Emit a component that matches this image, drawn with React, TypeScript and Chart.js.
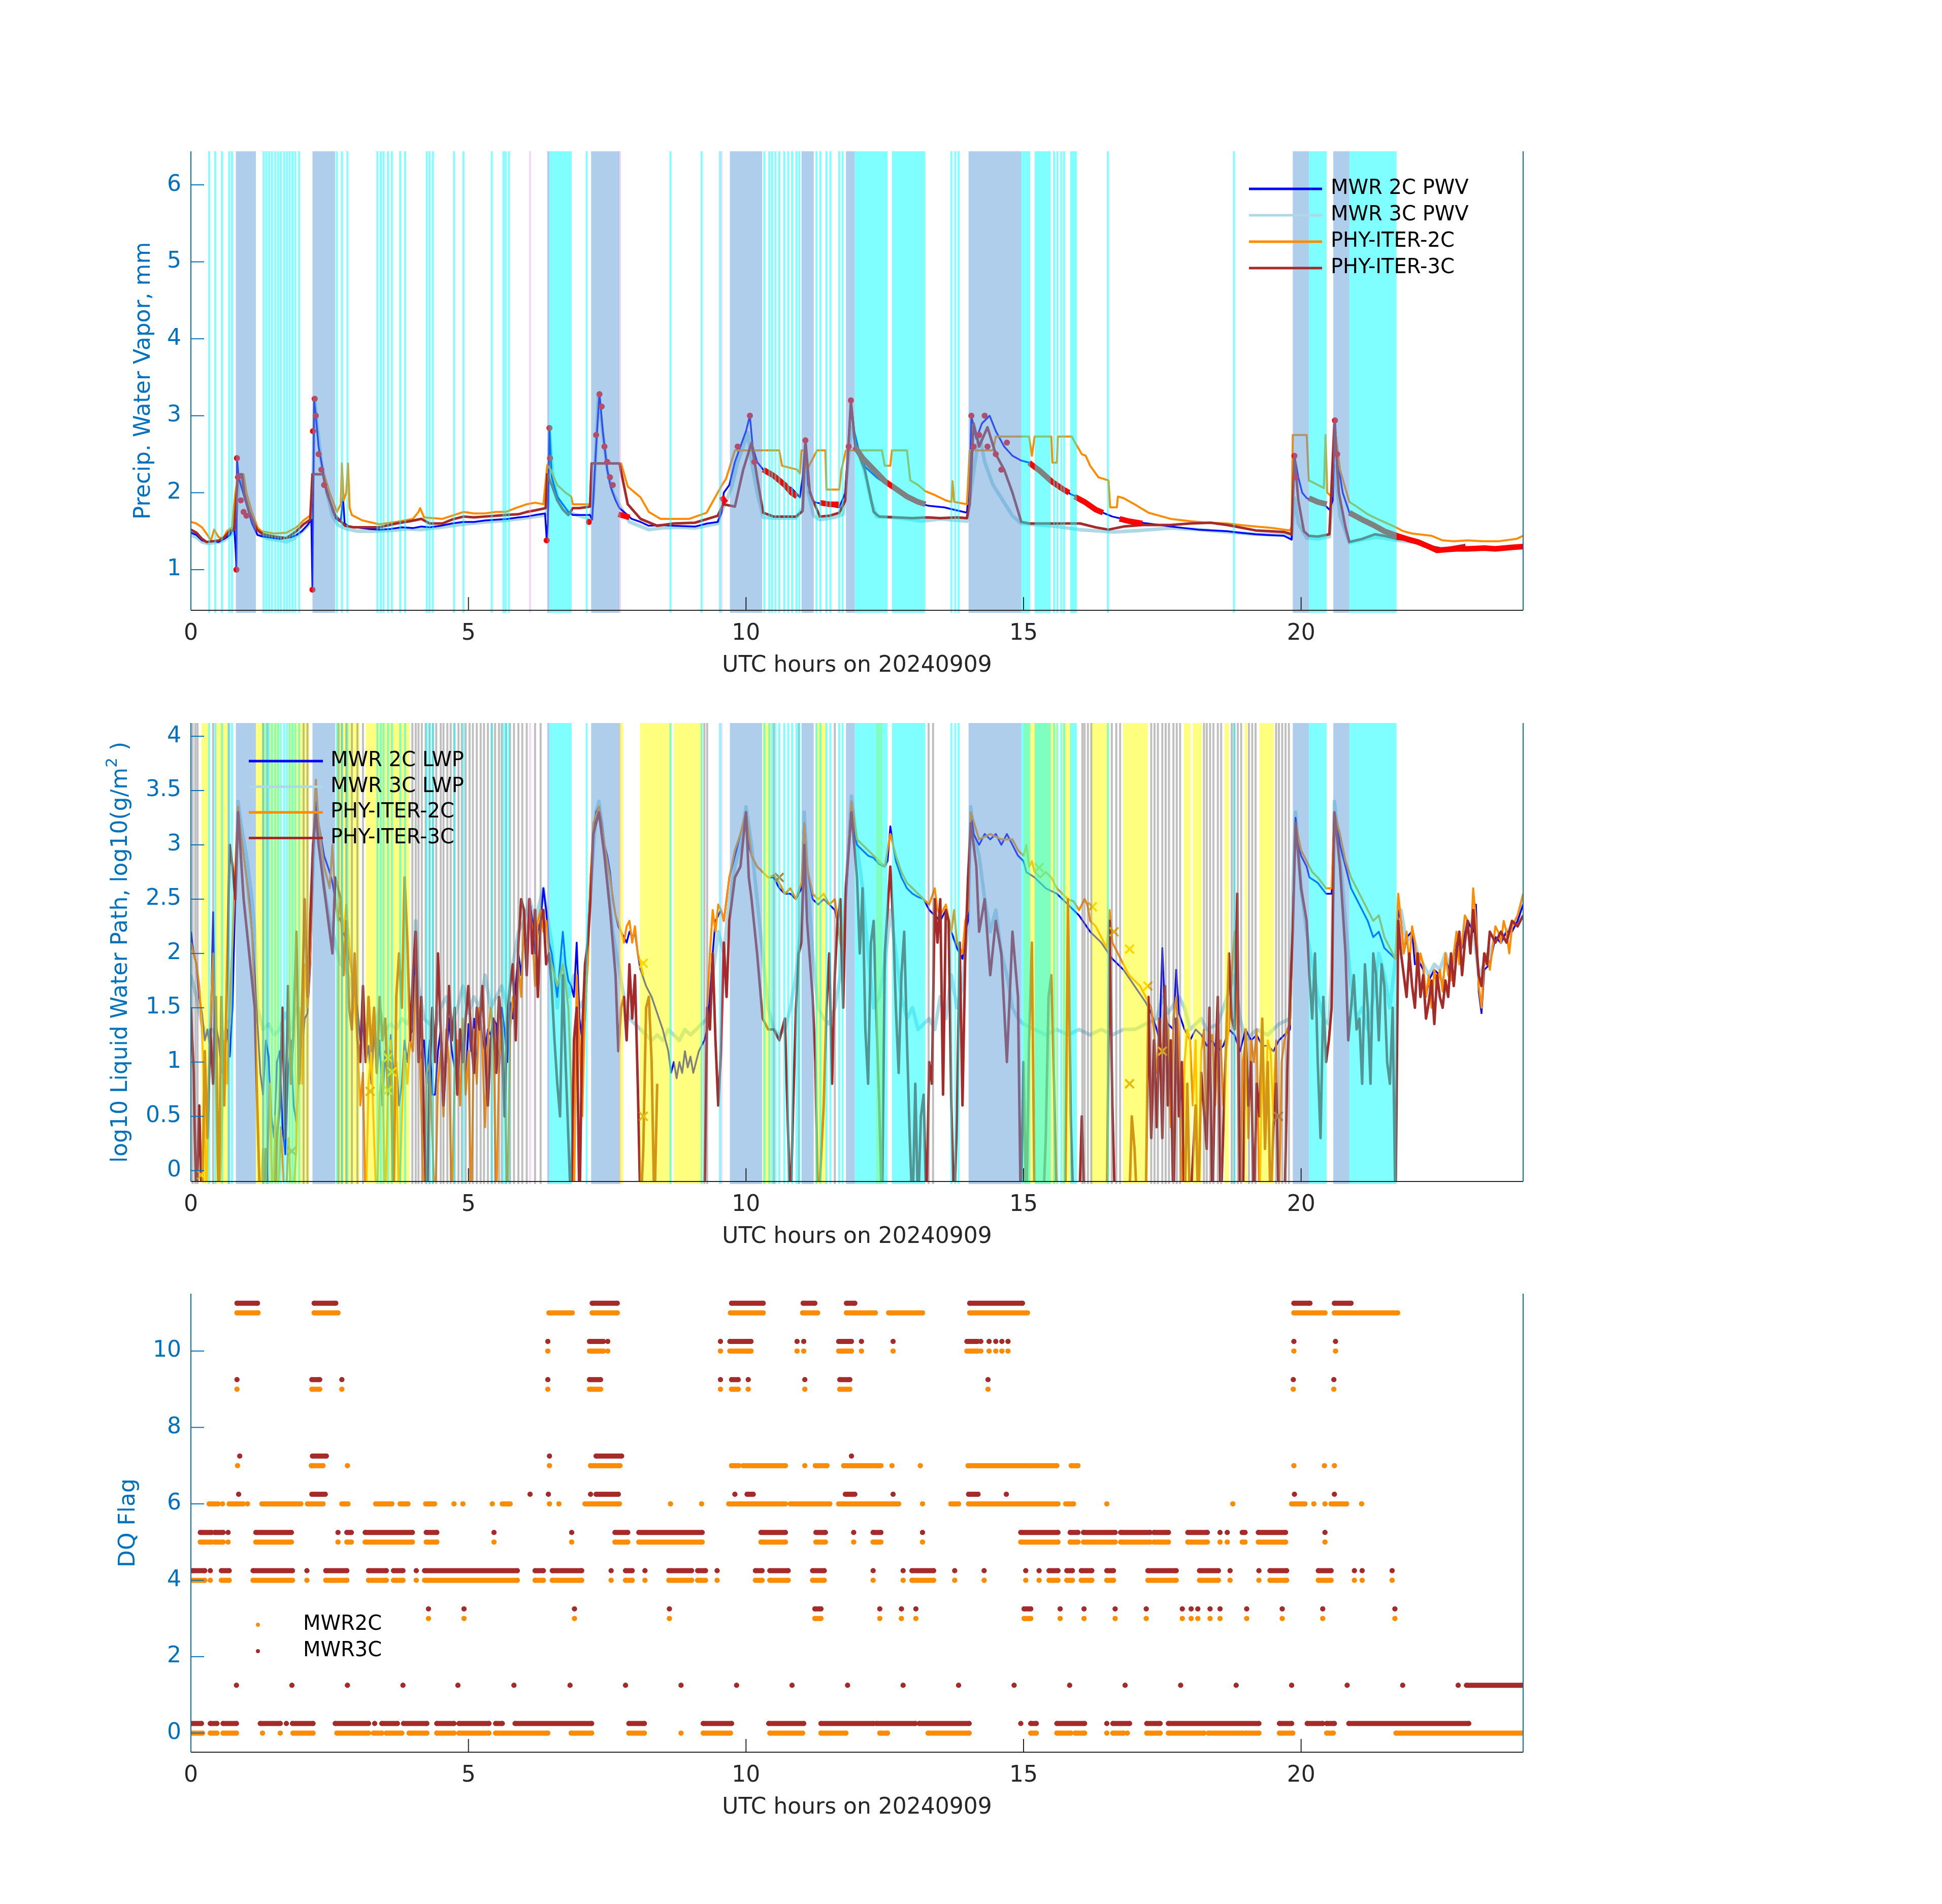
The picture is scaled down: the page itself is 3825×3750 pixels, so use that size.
import React, { useEffect, useRef } from "react";
import { Chart, registerables } from "chart.js";

Chart.register(...registerables);

type Pair = [number, number | null];
type Run = number[];

// ---------------- ticks & labels ----------------
const hourTicks = [0, 5, 10, 15, 20];
const pwvTicks = [1, 2, 3, 4, 5, 6];
const lwpTicks = [0, 0.5, 1, 1.5, 2, 2.5, 3, 3.5, 4];
const dqTicks = [0, 2, 4, 6, 8, 10];
const pwvLegend = ["MWR 2C PWV", "MWR 3C PWV", "PHY-ITER-2C", "PHY-ITER-3C"];
const lwpLegend = ["MWR 2C LWP", "MWR 3C LWP", "PHY-ITER-2C", "PHY-ITER-3C"];
const dqLegend = ["MWR2C", "MWR3C"];
const xTitle = "UTC hours on 20240909";

// ---------------- PWV panel (hours, mm) ----------------
const pwvMwr2c: Pair[] = [[0,1.48],[0.1,1.45],[0.2,1.38],[0.3,1.36],[0.4,1.37],[0.5,1.36],[0.6,1.4],[0.7,1.45],[0.78,1.55],[0.81,1.2],[0.82,1.0],[0.83,2.45],[0.86,2.2],[0.92,2.05],[1.0,1.85],[1.1,1.6],[1.2,1.45],[1.3,1.43],[1.4,1.42],[1.5,1.41],[1.6,1.4],[1.7,1.41],[1.8,1.42],[1.9,1.45],[2.0,1.5],[2.1,1.58],[2.17,1.65],[2.19,0.75],[2.2,1.6],[2.22,3.2],[2.25,3.0],[2.3,2.6],[2.4,2.2],[2.5,1.9],[2.56,1.75],[2.62,1.66],[2.7,1.62],[2.74,1.94],[2.77,1.6],[2.85,1.56],[2.95,1.55],[3.2,1.53],[3.4,1.52],[3.6,1.53],[3.8,1.55],[4.0,1.54],[4.15,1.56],[4.3,1.55],[4.5,1.57],[4.7,1.6],[4.9,1.62],[5.1,1.62],[5.3,1.64],[5.5,1.65],[5.7,1.66],[5.9,1.68],[6.05,1.69],[6.2,1.71],[6.38,1.73],[6.41,1.38],[6.43,1.6],[6.46,2.85],[6.5,2.2],[6.6,1.95],[6.7,1.85],[6.8,1.75],[6.88,1.71],[7.0,1.71],[7.19,1.71],[7.23,1.65],[7.3,2.6],[7.36,3.3],[7.42,2.8],[7.5,2.3],[7.56,2.08],[7.65,1.9],[7.72,1.8],[7.85,1.72],[7.94,1.66],[8.1,1.62],[8.25,1.57],[8.47,1.58],[8.7,1.57],[9.08,1.56],[9.3,1.6],[9.49,1.62],[9.56,1.74],[9.6,2.0],[9.7,2.1],[9.8,2.4],[9.9,2.6],[10.0,2.8],[10.07,3.0],[10.12,2.6],[10.2,2.4],[10.31,2.3],[10.51,2.2],[10.7,2.1],[10.82,2.06],[10.97,1.94],[11.02,2.2],[11.07,2.68],[11.12,2.1],[11.22,1.88],[11.4,1.85],[11.53,1.83],[11.68,1.81],[11.79,2.0],[11.89,3.2],[11.95,2.8],[12.05,2.5],[12.14,2.34],[12.35,2.2],[12.55,2.1],[12.7,2.03],[12.86,1.97],[13.0,1.92],[13.16,1.85],[13.3,1.83],[13.57,1.81],[13.8,1.77],[13.98,1.74],[14.03,2.2],[14.06,3.0],[14.15,2.7],[14.25,2.9],[14.39,3.0],[14.5,2.8],[14.65,2.6],[14.8,2.48],[14.95,2.42],[15.1,2.39],[15.25,2.3],[15.41,2.2],[15.55,2.12],[15.71,2.06],[15.85,1.98],[16.02,1.93],[16.2,1.82],[16.43,1.74],[16.6,1.69],[16.84,1.65],[17.0,1.62],[17.24,1.6],[17.45,1.58],[17.65,1.56],[17.9,1.54],[18.16,1.52],[18.4,1.51],[18.67,1.5],[18.9,1.48],[19.18,1.46],[19.4,1.45],[19.69,1.44],[19.83,1.39],[19.86,2.2],[19.88,2.48],[19.95,2.2],[20.02,2.0],[20.1,1.93],[20.25,1.88],[20.41,1.85],[20.51,1.78],[20.57,1.9],[20.61,2.94],[20.66,2.4],[20.75,2.0],[20.87,1.74],[21.0,1.7],[21.15,1.65],[21.3,1.58],[21.5,1.5],[21.73,1.44],[21.9,1.41],[22.14,1.37],[22.3,1.3],[22.45,1.25],[22.6,1.26],[22.76,1.27],[23.0,1.27],[23.27,1.28],[23.5,1.28],[23.78,1.29],[24.0,1.32]];

const pwvMwr3c: Pair[] = [[0,1.45],[0.1,1.42],[0.2,1.36],[0.3,1.34],[0.4,1.35],[0.5,1.36],[0.6,1.38],[0.7,1.44],[0.78,1.5],[0.83,1.8],[0.88,2.2],[0.95,2.05],[1.05,1.8],[1.15,1.55],[1.25,1.45],[1.4,1.4],[1.6,1.38],[1.72,1.36],[1.85,1.4],[2.03,1.52],[2.15,1.6],[2.2,2.2],[2.23,3.24],[2.27,2.9],[2.35,2.4],[2.45,2.0],[2.55,1.7],[2.65,1.58],[2.8,1.53],[3.0,1.5],[3.3,1.5],[3.6,1.51],[3.9,1.53],[4.15,1.52],[4.5,1.55],[4.9,1.59],[5.3,1.62],[5.67,1.64],[6.0,1.67],[6.39,1.71],[6.43,1.8],[6.46,2.8],[6.52,2.2],[6.62,1.9],[6.75,1.78],[6.9,1.72],[7.19,1.66],[7.25,1.9],[7.3,2.6],[7.34,3.28],[7.4,2.9],[7.5,2.3],[7.6,2.0],[7.75,1.8],[7.9,1.62],[8.25,1.52],[8.47,1.54],[8.8,1.55],[9.08,1.54],[9.49,1.6],[9.56,1.76],[9.65,1.9],[9.75,2.1],[9.85,2.4],[9.95,2.6],[10.03,2.78],[10.1,2.4],[10.2,2.0],[10.31,1.68],[10.5,1.67],[10.9,1.67],[11.02,1.8],[11.07,2.62],[11.12,2.0],[11.22,1.7],[11.33,1.65],[11.6,1.68],[11.75,1.72],[11.85,2.5],[11.9,2.85],[12.0,2.6],[12.14,2.27],[12.25,1.9],[12.35,1.69],[12.6,1.68],[12.9,1.66],[13.16,1.63],[13.5,1.66],[13.98,1.63],[14.05,2.0],[14.2,2.78],[14.3,2.4],[14.45,2.1],[14.6,1.93],[14.8,1.7],[14.96,1.6],[15.3,1.58],[15.6,1.56],[16.0,1.52],[16.63,1.49],[17.1,1.51],[17.65,1.54],[18.16,1.52],[18.67,1.49],[19.18,1.46],[19.69,1.45],[19.83,1.43],[19.88,1.93],[19.95,1.6],[20.1,1.41],[20.3,1.4],[20.51,1.43],[20.61,2.35],[20.7,1.7],[20.87,1.35],[21.1,1.39],[21.33,1.42],[21.5,1.41],[21.73,1.38],[22.0,1.36],[22.14,1.35],[22.35,1.28],[22.55,1.25],[22.8,1.28],[22.96,1.29]];

const pwvPhy2c: Pair[] = [[0,1.62],[0.1,1.6],[0.2,1.55],[0.3,1.45],[0.36,1.38],[0.42,1.52],[0.5,1.42],[0.58,1.41],[0.65,1.5],[0.74,1.55],[0.8,1.99],[0.85,2.24],[0.95,2.24],[1.0,2.0],[1.1,1.75],[1.2,1.55],[1.27,1.5],[1.5,1.47],[1.72,1.48],[1.9,1.55],[2.03,1.64],[2.16,1.71],[2.19,2.24],[2.4,2.24],[2.5,2.0],[2.63,1.75],[2.7,1.85],[2.72,2.38],[2.75,1.9],[2.8,2.0],[2.83,2.38],[2.86,1.8],[2.9,1.71],[3.09,1.64],[3.39,1.59],[3.7,1.62],[4.0,1.66],[4.1,1.75],[4.13,1.8],[4.2,1.68],[4.53,1.66],[4.7,1.7],[4.91,1.75],[5.1,1.73],[5.29,1.73],[5.5,1.75],[5.67,1.75],[5.85,1.8],[6.05,1.85],[6.2,1.87],[6.35,1.85],[6.42,2.36],[6.48,2.3],[6.6,2.1],[6.75,2.0],[6.85,1.95],[6.88,1.85],[7.19,1.85],[7.22,2.38],[7.75,2.38],[7.87,2.08],[8.0,2.0],[8.1,1.94],[8.25,1.75],[8.46,1.66],[8.98,1.66],[9.29,1.74],[9.56,2.09],[9.64,2.18],[9.8,2.55],[10.6,2.55],[10.65,2.35],[10.92,2.3],[10.97,2.25],[11.0,2.55],[11.05,2.55],[11.1,2.3],[11.28,2.55],[11.43,2.55],[11.45,2.04],[11.68,2.04],[11.72,2.3],[11.8,2.55],[12.45,2.55],[12.5,2.35],[12.6,2.35],[12.63,2.55],[12.9,2.55],[12.96,2.16],[13.1,2.1],[13.23,2.02],[13.4,1.97],[13.6,1.9],[13.7,1.88],[13.72,2.15],[13.75,1.88],[13.98,1.85],[14.03,2.55],[14.45,2.55],[14.5,2.73],[15.1,2.73],[15.15,2.48],[15.2,2.73],[15.5,2.73],[15.52,2.39],[15.6,2.39],[15.62,2.73],[15.87,2.73],[15.92,2.66],[16.05,2.5],[16.12,2.48],[16.2,2.35],[16.35,2.2],[16.53,2.16],[16.56,1.81],[16.68,1.81],[16.7,1.95],[16.8,1.93],[17.0,1.85],[17.25,1.74],[17.45,1.7],[17.65,1.66],[18.0,1.63],[18.3,1.61],[18.67,1.6],[18.9,1.58],[19.18,1.56],[19.5,1.54],[19.8,1.51],[19.83,1.56],[19.85,2.75],[20.1,2.75],[20.14,2.16],[20.41,2.06],[20.44,2.75],[20.47,2.0],[20.55,1.95],[20.6,2.9],[20.7,2.3],[20.87,1.88],[21.0,1.82],[21.2,1.72],[21.4,1.65],[21.68,1.56],[21.84,1.5],[22.0,1.47],[22.35,1.44],[22.55,1.38],[22.76,1.37],[23.0,1.38],[23.27,1.37],[23.57,1.37],[23.88,1.4],[24.0,1.44]];

const pwvPhy3c: Pair[] = [[0,1.52],[0.1,1.48],[0.2,1.4],[0.28,1.36],[0.4,1.37],[0.51,1.38],[0.6,1.42],[0.7,1.5],[0.78,1.52],[0.85,2.24],[0.92,2.24],[0.96,1.99],[1.05,1.75],[1.19,1.52],[1.3,1.46],[1.5,1.43],[1.72,1.41],[1.9,1.5],[2.03,1.59],[2.15,1.65],[2.19,2.24],[2.38,2.24],[2.45,2.0],[2.6,1.7],[2.78,1.57],[2.94,1.55],[3.2,1.55],[3.39,1.55],[3.7,1.6],[3.95,1.63],[4.15,1.66],[4.3,1.6],[4.53,1.6],[4.7,1.65],[4.91,1.69],[5.1,1.68],[5.29,1.69],[5.5,1.7],[5.67,1.71],[5.9,1.72],[6.05,1.75],[6.2,1.77],[6.39,1.8],[6.42,2.24],[6.5,2.1],[6.6,1.9],[6.7,1.78],[6.8,1.71],[6.88,1.8],[7.0,1.8],[7.19,1.82],[7.22,2.38],[7.72,2.38],[7.87,1.85],[8.1,1.66],[8.4,1.57],[8.7,1.6],[9.08,1.61],[9.49,1.7],[9.59,1.85],[9.8,1.82],[9.95,2.3],[10.1,2.65],[10.2,2.2],[10.31,1.74],[10.5,1.69],[10.9,1.69],[11.02,1.76],[11.07,2.68],[11.15,2.0],[11.33,1.69],[11.5,1.7],[11.68,1.74],[11.79,1.9],[11.89,3.18],[11.97,2.6],[12.14,2.3],[12.3,1.75],[12.4,1.69],[12.7,1.68],[13.0,1.67],[13.27,1.68],[13.5,1.67],[13.8,1.68],[13.98,1.67],[14.03,1.85],[14.1,2.9],[14.2,2.6],[14.35,2.85],[14.5,2.5],[14.65,2.3],[14.8,2.0],[14.96,1.62],[15.1,1.6],[15.5,1.6],[16.02,1.6],[16.3,1.55],[16.53,1.52],[16.8,1.56],[17.14,1.58],[17.65,1.58],[18.0,1.6],[18.37,1.61],[18.67,1.58],[19.18,1.51],[19.69,1.49],[19.83,1.46],[19.88,2.48],[19.95,1.9],[20.05,1.5],[20.14,1.44],[20.3,1.43],[20.51,1.46],[20.6,2.9],[20.68,2.0],[20.8,1.55],[20.87,1.36],[21.1,1.4],[21.33,1.46],[21.5,1.44],[21.73,1.4],[22.0,1.38],[22.14,1.37],[22.35,1.3],[22.55,1.27],[22.8,1.3],[22.96,1.32]];

const pwvRedSegments: Pair[][] = [
  [[7.7,1.72],[7.8,1.7],[7.9,1.68]],
  [[9.56,1.95],[9.6,1.9],[9.64,1.87]],
  [[10.31,2.3],[10.5,2.22],[10.7,2.1],[10.82,2.0],[10.92,1.95]],
  [[11.33,1.87],[11.5,1.85],[11.68,1.85]],
  [[11.96,2.6],[12.1,2.45],[12.3,2.3],[12.5,2.15],[12.7,2.05],[12.9,1.95],[13.1,1.88],[13.23,1.85]],
  [[15.1,2.39],[15.3,2.28],[15.5,2.15],[15.7,2.05],[15.82,2.0]],
  [[15.92,1.95],[16.1,1.88],[16.3,1.78],[16.43,1.74]],
  [[16.73,1.66],[16.9,1.63],[17.14,1.6]],
  [[20.14,1.93],[20.3,1.88],[20.46,1.85]],
  [[20.87,1.74],[21.1,1.65],[21.3,1.58],[21.5,1.5],[21.73,1.44],[21.9,1.4],[22.1,1.36],[22.3,1.3],[22.45,1.25],[22.6,1.26],[22.8,1.27],[23.0,1.27],[23.3,1.28],[23.5,1.27],[23.8,1.29],[24.0,1.3]],
];
const pwvRedDots: Pair[] = [[0.82,1.0],[0.83,2.45],[0.85,2.2],[0.9,1.9],[0.95,1.75],[1.0,1.7],[2.19,0.74],[2.2,2.8],[2.23,3.22],[2.25,3.0],[2.3,2.5],[2.35,2.3],[2.4,2.1],[6.41,1.38],[6.46,2.84],[6.47,2.45],[7.17,1.62],[7.3,2.75],[7.36,3.28],[7.4,3.12],[7.45,2.6],[7.5,2.4],[7.55,2.2],[7.6,2.1],[9.85,2.6],[10.07,3.0],[10.15,2.4],[11.07,2.68],[11.85,2.6],[11.89,3.2],[14.06,3.0],[14.1,2.6],[14.2,2.75],[14.3,3.0],[14.35,2.6],[14.5,2.5],[14.6,2.3],[14.7,2.65],[19.88,2.48],[19.9,2.2],[20.61,2.94],[20.65,2.5]];

// ---------------- LWP panel (hours, log10 g/m2) ----------------
const lwpMwr2c: Pair[] = [[0,2.2],[0.05,2.0],[0.1,1.9],[0.15,1.6],[0.2,1.45],[0.25,1.2],[0.3,1.3],[0.35,1.1],[0.4,2.38],[0.43,1.4],[0.5,1.2],[0.55,0.9],[0.6,1.0],[0.65,1.3],[0.7,1.05],[0.75,1.5],[0.8,2.6],[0.85,3.35],[0.9,3.1],[0.95,2.9],[1.0,2.7],[1.05,2.5],[1.1,2.2],[1.15,1.8],[1.2,1.35],[1.25,0.9],[1.3,0.7],[1.35,1.2],[1.4,1.05],[1.45,0.5],[1.5,0.3],[1.55,1.0],[1.6,1.1],[1.65,0.4],[1.7,0.15],[1.75,0.9],[1.8,1.2],[1.85,0.6],[1.9,0.45],[1.95,1.0],[2.0,1.1],[2.05,1.4],[2.1,1.45],[2.15,1.9],[2.2,2.9],[2.25,3.4],[2.3,3.2],[2.4,2.9],[2.5,2.75],[2.55,2.65],[2.6,2.5],[2.65,2.35],[2.7,2.3],[2.75,2.2],[2.8,2.1],[2.85,2.0],[2.9,1.8],[2.95,1.6],[3.0,1.5],[3.05,1.2],[3.1,1.35],[3.15,1.0],[3.2,1.15],[3.25,0.8],[3.3,1.3],[3.35,0.9],[3.4,1.2],[3.45,0.6],[3.5,1.1],[3.55,0.75],[3.6,1.25],[3.65,0.9],[3.7,1.0],[3.75,0.6],[3.8,0.8],[3.85,1.2],[3.9,1.0],[3.95,1.25],[4.0,1.3],[4.04,2.2],[4.08,1.7],[4.12,1.0],[4.2,1.2],[4.25,0.8],[4.3,1.2],[4.35,0.7],[4.4,0.7],[4.45,1.1],[4.5,1.3],[4.55,0.9],[4.6,1.0],[4.65,1.4],[4.7,1.1],[4.75,0.95],[4.8,1.0],[4.85,1.3],[4.9,1.2],[4.95,0.8],[5.0,1.35],[5.05,1.1],[5.1,1.4],[5.15,0.9],[5.2,1.5],[5.25,1.2],[5.3,1.1],[5.35,1.3],[5.4,1.25],[5.45,1.4],[5.5,1.35],[5.55,0.9],[5.6,1.5],[5.65,1.3],[5.7,1.0],[5.75,1.55],[5.8,1.4],[5.85,1.7],[5.9,2.0],[5.95,1.8],[6.0,2.2],[6.05,2.0],[6.1,2.5],[6.15,2.3],[6.2,2.0],[6.25,2.2],[6.3,2.3],[6.35,2.6],[6.4,2.4],[6.45,2.1],[6.5,2.0],[6.55,1.8],[6.6,1.6],[6.65,1.9],[6.7,2.2],[6.75,1.9],[6.8,1.75],[6.85,1.7],[6.9,1.6],[6.95,2.1],[7.0,1.4],[7.05,1.2],[7.1,1.4],[7.15,2.0],[7.2,2.7],[7.25,3.1],[7.3,3.3],[7.35,3.35],[7.4,3.2],[7.45,3.0],[7.5,2.9],[7.55,2.75],[7.6,2.5],[7.65,2.35],[7.7,2.25],[7.75,2.2],[7.8,2.15],[7.85,2.1],[7.9,2.2],[7.95,2.15],[8.0,2.2],[8.05,2.0],[8.1,1.85],[8.2,1.7],[8.3,1.6],[8.4,1.45],[8.5,1.3],[8.6,1.1],[8.65,0.9],[8.7,1.0],[8.75,0.85],[8.8,1.0],[8.85,0.9],[8.9,1.1],[8.95,0.95],[9.0,1.05],[9.05,0.9],[9.1,1.0],[9.15,1.1],[9.2,1.15],[9.25,1.2],[9.3,1.3],[9.35,1.6],[9.4,2.0],[9.45,2.3],[9.5,2.35],[9.55,2.4],[9.6,2.3],[9.65,2.5],[9.7,2.7],[9.8,2.9],[9.9,3.1],[10.0,3.3],[10.05,3.0],[10.1,2.9],[10.2,2.8],[10.3,2.75],[10.4,2.7],[10.5,2.7],[10.6,2.6],[10.7,2.55],[10.8,2.55],[10.9,2.5],[11.0,2.6],[11.05,3.2],[11.1,2.8],[11.2,2.5],[11.3,2.45],[11.4,2.5],[11.5,2.45],[11.6,2.4],[11.65,2.3],[11.7,2.1],[11.75,2.0],[11.8,2.5],[11.85,3.0],[11.9,3.4],[11.95,3.1],[12.0,3.0],[12.1,2.95],[12.2,2.9],[12.3,2.88],[12.4,2.82],[12.5,2.8],[12.55,2.85],[12.6,3.17],[12.65,3.0],[12.7,2.85],[12.8,2.7],[12.9,2.6],[13.0,2.55],[13.1,2.52],[13.2,2.5],[13.3,2.4],[13.4,2.35],[13.5,2.3],[13.6,2.4],[13.65,2.3],[13.7,2.2],[13.8,2.05],[13.9,1.95],[13.95,2.2],[14.0,2.3],[14.05,3.3],[14.1,3.1],[14.2,3.0],[14.3,3.1],[14.4,3.05],[14.5,3.1],[14.6,3.0],[14.7,3.1],[14.8,3.0],[14.9,2.9],[15.0,2.85],[15.05,2.75],[15.2,2.7],[15.4,2.6],[15.6,2.55],[15.8,2.45],[16.0,2.35],[16.2,2.2],[16.4,2.1],[16.6,1.95],[16.8,1.85],[17.0,1.7],[17.2,1.55],[17.3,1.45],[17.4,1.3],[17.45,1.2],[17.5,2.05],[17.55,1.4],[17.6,1.35],[17.7,1.3],[17.75,1.85],[17.8,1.45],[17.9,1.3],[18.0,1.2],[18.1,1.3],[18.2,1.25],[18.3,1.15],[18.4,1.2],[18.5,1.1],[18.6,1.15],[18.7,1.3],[18.8,1.25],[18.9,1.1],[19.0,1.3],[19.1,1.2],[19.2,1.25],[19.3,1.15],[19.4,1.15],[19.5,1.1],[19.6,1.2],[19.7,1.25],[19.8,1.3],[19.85,2.3],[19.9,3.25],[19.95,3.0],[20.0,2.9],[20.1,2.8],[20.15,2.7],[20.3,2.65],[20.45,2.55],[20.55,2.55],[20.6,3.3],[20.65,3.2],[20.7,3.0],[20.8,2.8],[20.9,2.6],[21.0,2.5],[21.1,2.4],[21.2,2.3],[21.3,2.15],[21.4,2.2],[21.5,2.05],[21.6,2.0],[21.7,1.95],[21.75,2.4],[21.8,2.3],[21.85,2.0],[21.9,2.15],[22.0,2.2],[22.05,1.9],[22.1,1.95],[22.2,1.85],[22.25,1.6],[22.3,1.75],[22.4,1.85],[22.5,1.8],[22.55,1.7],[22.6,1.95],[22.7,1.8],[22.8,2.15],[22.9,2.05],[23.0,2.3],[23.1,2.2],[23.15,2.45],[23.2,1.65],[23.25,1.45],[23.3,1.85],[23.4,1.9],[23.5,2.15],[23.6,2.1],[23.7,2.2],[23.8,2.2],[23.9,2.3],[24.0,2.45]];

const lwpMwr3c: Pair[] = [[0,1.8],[0.1,1.6],[0.2,1.35],[0.3,1.25],[0.4,1.3],[0.5,1.2],[0.6,1.25],[0.7,1.4],[0.8,2.5],[0.85,3.4],[0.9,3.2],[1.0,2.9],[1.1,2.5],[1.15,2.2],[1.2,1.5],[1.3,1.3],[1.4,1.35],[1.5,1.25],[1.6,1.3],[1.7,1.45],[1.8,1.3],[1.9,1.5],[2.0,1.4],[2.1,1.6],[2.2,2.8],[2.25,3.45],[2.3,3.1],[2.4,2.6],[2.5,2.3],[2.6,2.1],[2.7,1.9],[2.8,1.85],[2.9,1.7],[3.0,1.4],[3.1,1.3],[3.2,1.35],[3.3,1.3],[3.4,1.5],[3.5,1.3],[3.6,1.35],[3.7,1.3],[3.8,1.4],[3.9,1.35],[4.0,1.5],[4.05,2.3],[4.1,1.7],[4.2,1.4],[4.3,1.35],[4.4,1.3],[4.5,1.5],[4.6,1.6],[4.7,1.35],[4.8,1.5],[4.9,1.7],[5.0,1.45],[5.1,1.6],[5.2,1.5],[5.3,1.8],[5.4,1.5],[5.5,1.6],[5.6,1.7],[5.7,1.5],[5.8,1.9],[5.9,2.2],[6.0,2.3],[6.1,2.5],[6.2,2.3],[6.3,2.5],[6.35,2.6],[6.4,2.4],[6.5,2.1],[6.6,1.5],[6.7,2.0],[6.8,1.6],[6.9,1.8],[7.0,1.5],[7.1,1.6],[7.2,2.6],[7.3,3.3],[7.35,3.4],[7.4,3.2],[7.5,2.7],[7.6,2.2],[7.7,1.9],[7.8,1.6],[7.9,1.4],[8.0,1.35],[8.1,1.3],[8.2,1.25],[8.3,1.2],[8.4,1.25],[8.5,1.2],[8.6,1.3],[8.7,1.25],[8.8,1.2],[8.9,1.3],[9.0,1.25],[9.1,1.3],[9.2,1.35],[9.3,1.4],[9.4,1.8],[9.5,2.2],[9.6,2.0],[9.7,2.5],[9.8,2.8],[9.9,3.0],[10.0,3.35],[10.1,3.0],[10.2,2.5],[10.3,2.0],[10.4,1.5],[10.5,1.3],[10.6,1.25],[10.7,1.3],[10.8,1.5],[10.9,1.8],[11.0,2.3],[11.05,3.3],[11.1,2.8],[11.2,2.0],[11.3,1.5],[11.4,1.4],[11.5,1.35],[11.6,1.5],[11.7,1.8],[11.8,2.6],[11.9,3.45],[12.0,3.0],[12.1,2.6],[12.2,2.0],[12.3,1.5],[12.4,1.6],[12.5,1.9],[12.6,2.4],[12.7,2.0],[12.8,1.6],[12.9,1.4],[13.0,1.5],[13.1,1.3],[13.2,1.35],[13.3,1.4],[13.4,1.3],[13.5,1.6],[13.6,1.4],[13.7,1.8],[13.8,1.5],[13.9,1.7],[14.0,2.3],[14.05,3.35],[14.1,3.1],[14.2,2.9],[14.3,2.5],[14.4,2.2],[14.5,2.4],[14.6,2.0],[14.7,1.8],[14.8,1.5],[14.9,1.4],[15.0,1.35],[15.2,1.3],[15.4,1.25],[15.6,1.3],[15.8,1.25],[16.0,1.3],[16.2,1.25],[16.4,1.3],[16.6,1.25],[16.8,1.3],[17.0,1.3],[17.2,1.35],[17.4,1.4],[17.5,1.6],[17.6,1.45],[17.8,1.6],[17.9,1.5],[18.0,1.3],[18.2,1.4],[18.3,1.3],[18.5,1.35],[18.6,1.5],[18.8,1.8],[18.9,1.4],[19.0,1.2],[19.2,1.3],[19.4,1.25],[19.6,1.35],[19.8,1.4],[19.85,2.6],[19.9,3.3],[20.0,2.6],[20.1,2.2],[20.2,1.9],[20.3,1.6],[20.4,1.4],[20.5,1.35],[20.55,1.8],[20.6,3.4],[20.7,2.9],[20.8,2.3],[20.9,1.7],[21.0,1.4],[21.1,1.5],[21.2,1.3],[21.3,1.6],[21.4,2.0],[21.5,1.8],[21.6,1.5],[21.7,1.95],[21.8,2.4],[21.9,2.1],[22.0,2.2],[22.1,2.0],[22.2,1.9],[22.3,1.8],[22.4,1.9],[22.5,1.85],[22.6,2.0],[22.7,1.85],[22.8,2.1],[22.9,2.1],[23.0,2.3],[23.1,2.25],[23.2,1.8],[23.3,1.9],[23.4,2.0],[23.5,2.15],[23.6,2.1],[23.7,2.2],[23.8,2.25],[23.9,2.3],[24.0,2.5]];

const lwpPhy2c: Pair[] = [[0,2.1],[0.05,2.0],[0.1,1.9],[0.15,1.7],[0.2,1.3],[0.25,0.5],[0.28,-0.4],[0.32,0.9],[0.36,1.5],[0.4,2.0],[0.45,0.7],[0.5,-0.4],[0.55,0.2],[0.6,1.2],[0.65,0.8],[0.7,1.5],[0.75,2.1],[0.8,2.8],[0.85,3.35],[0.9,3.1],[1.0,2.7],[1.1,2.2],[1.15,1.6],[1.2,0.6],[1.25,-0.4],[1.3,0.2],[1.35,-0.4],[1.42,0.8],[1.47,-0.4],[1.52,0.5],[1.56,-0.4],[1.62,0.4],[1.7,-0.4],[1.76,0.3],[1.82,-0.4],[1.9,0.2],[1.95,1.5],[2.0,0.8],[2.05,1.9],[2.1,1.5],[2.15,2.0],[2.2,3.0],[2.25,3.6],[2.3,3.2],[2.4,2.8],[2.5,2.6],[2.55,3.0],[2.6,2.5],[2.65,2.3],[2.7,2.5],[2.75,2.2],[2.8,2.45],[2.85,2.1],[2.9,1.8],[2.95,1.5],[3.0,1.2],[3.05,0.6],[3.1,0.9],[3.15,-0.4],[3.2,0.8],[3.25,1.1],[3.3,0.3],[3.35,-0.4],[3.4,0.7],[3.45,1.0],[3.5,-0.4],[3.55,0.8],[3.6,1.2],[3.65,0.4],[3.7,1.0],[3.75,-0.4],[3.8,0.5],[3.85,1.1],[3.9,0.8],[3.95,1.2],[4.0,1.1],[4.05,1.8],[4.1,1.5],[4.15,0.6],[4.2,-0.4],[4.25,0.9],[4.3,1.0],[4.35,0.3],[4.4,-0.4],[4.45,0.8],[4.5,1.1],[4.55,0.5],[4.6,1.3],[4.65,1.0],[4.7,-0.4],[4.75,0.9],[4.8,1.2],[4.85,0.6],[4.9,1.4],[4.95,0.7],[5.0,1.1],[5.05,-0.4],[5.1,1.3],[5.15,0.8],[5.2,1.5],[5.25,1.1],[5.3,0.4],[5.35,1.2],[5.4,1.5],[5.45,1.3],[5.5,-0.4],[5.55,1.0],[5.6,1.4],[5.65,0.9],[5.7,-0.4],[5.75,1.3],[5.8,1.6],[5.85,1.4],[5.9,1.9],[5.95,1.6],[6.0,2.3],[6.05,1.8],[6.1,2.5],[6.15,2.2],[6.2,1.7],[6.25,2.3],[6.3,2.4],[6.35,2.2],[6.4,2.3],[6.45,2.0],[6.5,1.9],[6.6,1.7],[6.7,1.9],[6.8,1.5],[6.85,0.8],[6.9,-0.4],[6.95,1.8],[7.0,1.2],[7.05,0.5],[7.1,1.5],[7.15,1.9],[7.2,2.7],[7.25,3.2],[7.35,3.35],[7.45,3.0],[7.55,2.7],[7.65,2.35],[7.75,2.2],[7.8,2.1],[7.85,2.25],[7.9,2.3],[7.95,2.1],[8.0,2.25],[8.05,2.0],[8.1,1.9],[8.15,1.8],[8.2,null],[9.3,1.5],[9.35,2.0],[9.4,2.4],[9.45,2.2],[9.5,2.45],[9.55,2.4],[9.6,2.3],[9.7,2.7],[9.8,2.95],[9.9,3.1],[10.0,3.3],[10.1,2.9],[10.2,2.8],[10.3,2.75],[10.4,2.7],[10.5,2.72],[10.6,2.65],[10.7,2.55],[10.8,2.6],[10.9,2.5],[11.0,2.65],[11.05,3.2],[11.1,2.8],[11.2,2.55],[11.3,2.5],[11.4,2.55],[11.5,2.45],[11.6,2.5],[11.65,2.3],[11.7,2.1],[11.75,2.0],[11.8,2.6],[11.9,3.4],[12.0,3.05],[12.1,3.0],[12.2,2.95],[12.3,2.9],[12.4,2.85],[12.5,2.8],[12.6,3.1],[12.7,2.9],[12.8,2.75],[12.9,2.65],[13.0,2.6],[13.1,2.55],[13.2,2.5],[13.3,2.45],[13.4,2.6],[13.45,2.4],[13.5,2.35],[13.6,2.45],[13.7,2.2],[13.75,2.4],[13.8,2.1],[13.9,2.0],[13.95,2.3],[14.0,2.4],[14.05,3.3],[14.2,3.05],[14.4,3.1],[14.6,3.05],[14.8,3.05],[14.9,2.95],[15.0,2.9],[15.05,3.0],[15.1,2.8],[15.15,2.85],[15.2,2.75],[15.3,2.7],[15.4,2.75],[15.5,2.7],[15.6,2.6],[15.7,2.55],[15.8,2.5],[15.9,2.48],[16.0,2.4],[16.1,2.5],[16.15,2.45],[16.2,2.3],[16.3,2.25],[16.4,2.15],[16.5,2.05],[16.55,2.4],[16.6,2.1],[16.7,2.0],[16.8,1.9],[16.9,1.8],[17.0,1.75],[17.1,1.7],[17.2,1.6],[17.3,1.5],[17.35,1.3],[17.4,0.9],[17.45,1.2],[17.5,1.1],[17.55,1.5],[17.6,1.3],[17.65,0.4],[17.7,1.4],[17.75,1.6],[17.8,1.2],[17.85,-0.4],[17.9,1.0],[17.95,1.3],[18.0,1.2],[18.05,0.6],[18.1,1.2],[18.15,-0.4],[18.2,1.1],[18.25,1.3],[18.3,0.3],[18.35,1.2],[18.4,1.25],[18.45,0.6],[18.5,1.1],[18.55,1.2],[18.6,0.6],[18.65,1.1],[18.7,1.3],[18.75,1.8],[18.8,2.2],[18.85,1.4],[18.9,-0.4],[18.95,1.0],[19.0,1.2],[19.05,0.3],[19.1,1.2],[19.15,1.0],[19.2,1.3],[19.25,-0.4],[19.3,1.1],[19.35,0.5],[19.4,1.2],[19.45,1.1],[19.5,0.5],[19.55,1.2],[19.6,-0.4],[19.65,1.0],[19.7,1.2],[19.75,1.3],[19.8,1.35],[19.85,2.3],[19.9,3.2],[20.0,2.95],[20.1,2.85],[20.2,2.75],[20.3,2.7],[20.45,2.6],[20.55,2.6],[20.6,3.3],[20.7,3.1],[20.8,2.85],[20.9,2.7],[21.0,2.6],[21.1,2.5],[21.2,2.4],[21.3,2.3],[21.4,2.35],[21.5,2.15],[21.6,2.05],[21.7,1.95],[21.75,2.55],[21.8,2.3],[21.85,2.0],[21.9,2.2],[21.95,1.9],[22.0,2.25],[22.05,2.1],[22.1,1.8],[22.15,2.0],[22.2,1.9],[22.25,1.6],[22.3,1.8],[22.35,1.5],[22.4,1.85],[22.45,1.7],[22.5,1.85],[22.55,1.65],[22.6,2.0],[22.65,1.8],[22.7,1.75],[22.75,2.0],[22.8,2.2],[22.85,1.9],[22.9,2.1],[22.95,2.35],[23.0,2.3],[23.05,2.0],[23.1,2.6],[23.15,2.3],[23.2,1.7],[23.25,1.5],[23.3,1.95],[23.35,2.0],[23.4,1.85],[23.45,2.05],[23.5,2.25],[23.55,2.2],[23.6,2.1],[23.65,2.3],[23.7,2.2],[23.75,2.0],[23.8,2.25],[23.9,2.35],[24.0,2.55]];

const lwpPhy3c: Pair[] = [[0,1.5],[0.05,0.9],[0.1,-0.4],[0.15,0.6],[0.2,-0.4],[0.25,1.1],[0.3,0.3],[0.35,1.3],[0.4,0.8],[0.45,1.6],[0.5,-0.4],[0.55,1.6],[0.6,0.6],[0.7,3.0],[0.75,2.8],[0.8,2.5],[0.85,3.3],[0.95,2.5],[1.05,2.0],[1.15,1.5],[1.2,0.5],[1.25,-0.4],[1.3,-0.4],[1.35,0.2],[1.4,-0.4],[1.5,-0.4],[1.55,0.3],[1.6,0.6],[1.65,1.5],[1.7,0.3],[1.75,1.7],[1.8,0.8],[1.85,1.3],[1.9,2.2],[1.95,0.8],[2.0,1.5],[2.05,2.5],[2.1,1.6],[2.15,2.3],[2.2,3.0],[2.25,3.3],[2.3,3.0],[2.4,2.6],[2.5,2.2],[2.55,2.0],[2.6,2.7],[2.65,2.6],[2.7,2.5],[2.75,1.8],[2.8,2.3],[2.85,1.5],[2.9,1.3],[2.95,2.0],[3.0,1.2],[3.05,1.0],[3.1,1.7],[3.15,1.0],[3.2,1.6],[3.25,1.1],[3.3,1.5],[3.35,0.9],[3.4,1.6],[3.45,1.2],[3.5,1.4],[3.55,0.7],[3.6,1.1],[3.65,-0.4],[3.7,1.6],[3.75,2.0],[3.8,1.5],[3.85,2.7],[3.9,2.1],[3.95,1.2],[4.0,1.8],[4.05,2.2],[4.1,1.0],[4.15,1.6],[4.2,0.4],[4.25,-0.4],[4.3,0.9],[4.35,1.5],[4.4,1.0],[4.45,2.0],[4.5,1.3],[4.55,0.6],[4.6,1.1],[4.65,1.7],[4.7,1.2],[4.75,1.5],[4.8,0.7],[4.85,1.3],[4.9,1.0],[4.95,1.4],[5.0,1.7],[5.05,1.2],[5.1,0.9],[5.15,1.5],[5.2,1.3],[5.25,1.7],[5.3,1.1],[5.35,0.6],[5.4,1.2],[5.45,1.4],[5.5,0.9],[5.55,1.6],[5.6,1.3],[5.65,0.5],[5.7,1.4],[5.75,1.7],[5.8,1.9],[5.85,1.2],[5.9,2.1],[5.95,2.5],[6.0,2.4],[6.05,1.8],[6.1,2.5],[6.15,2.0],[6.2,2.4],[6.25,1.6],[6.3,2.3],[6.35,2.4],[6.4,1.9],[6.45,2.0],[6.5,1.7],[6.55,1.2],[6.6,0.8],[6.65,0.5],[6.7,1.8],[6.75,1.0],[6.8,0.3],[6.85,-0.4],[6.9,1.2],[6.95,1.5],[7.0,-0.4],[7.05,1.3],[7.1,1.9],[7.15,2.1],[7.2,2.5],[7.25,3.1],[7.35,3.3],[7.45,2.9],[7.55,2.4],[7.65,1.8],[7.7,1.1],[7.75,1.5],[7.8,1.6],[7.85,1.2],[7.9,1.9],[7.95,1.4],[8.0,1.8],[8.05,0.8],[8.1,-0.4],[8.15,0.2],[8.2,1.5],[8.25,1.6],[8.3,1.0],[8.35,-0.4],[8.4,0.8],[8.45,null],[9.25,-0.4],[9.3,1.5],[9.35,1.3],[9.4,2.0],[9.45,1.2],[9.5,0.6],[9.55,1.1],[9.6,2.1],[9.65,1.6],[9.7,2.3],[9.8,2.7],[9.9,2.8],[10.0,3.3],[10.05,2.7],[10.1,2.5],[10.2,2.0],[10.3,1.4],[10.4,1.3],[10.5,1.3],[10.6,1.2],[10.7,1.4],[10.8,-0.4],[10.85,0.6],[10.9,1.5],[10.95,2.0],[11.0,2.1],[11.05,3.0],[11.1,2.3],[11.2,1.6],[11.25,1.0],[11.3,-0.4],[11.4,0.6],[11.45,1.5],[11.5,2.0],[11.55,0.8],[11.6,1.8],[11.65,2.3],[11.7,2.5],[11.75,1.5],[11.8,2.6],[11.9,3.3],[12.0,2.7],[12.05,2.0],[12.1,2.6],[12.15,1.3],[12.2,0.8],[12.25,2.1],[12.3,2.3],[12.35,1.4],[12.4,0.6],[12.45,-0.4],[12.5,2.0],[12.55,2.4],[12.6,2.8],[12.65,2.3],[12.7,1.5],[12.75,0.9],[12.8,1.8],[12.85,2.2],[12.9,1.2],[12.95,0.3],[13.0,-0.4],[13.05,0.8],[13.1,-0.4],[13.15,0.5],[13.2,0.7],[13.25,-0.4],[13.3,1.0],[13.35,0.8],[13.4,2.5],[13.45,2.1],[13.5,2.5],[13.55,0.7],[13.6,2.4],[13.65,2.3],[13.7,0.6],[13.75,-0.4],[13.8,0.5],[13.85,2.1],[13.9,0.6],[13.95,2.0],[14.0,2.7],[14.05,3.2],[14.15,2.8],[14.2,2.2],[14.3,2.5],[14.4,1.8],[14.5,2.3],[14.6,2.0],[14.7,1.0],[14.8,2.2],[14.9,1.6],[14.95,-0.4],[15.0,1.0],[15.05,-0.4],[15.1,1.2],[15.15,2.1],[15.2,-0.4],[15.35,-0.4],[15.4,0.3],[15.45,1.6],[15.5,1.8],[15.55,0.8],[15.6,-0.4],[15.75,-0.4],[15.8,2.5],[15.85,0.5],[15.9,-0.4],[16.0,-0.4],[16.05,0.5],[16.1,-0.4],[16.5,-0.4],[16.55,2.3],[16.6,0.6],[16.65,-0.4],[16.9,-0.4],[16.95,0.5],[17.0,0.2],[17.05,-0.4],[17.2,-0.4],[17.25,1.6],[17.3,0.3],[17.35,1.2],[17.4,0.4],[17.45,1.4],[17.5,0.3],[17.55,1.7],[17.6,0.6],[17.65,1.2],[17.7,-0.4],[17.75,1.4],[17.8,0.5],[17.85,1.0],[17.9,-0.4],[17.95,0.8],[18.0,-0.4],[18.1,0.6],[18.15,-0.4],[18.2,0.9],[18.3,0.2],[18.35,1.5],[18.4,-0.4],[18.45,0.9],[18.5,1.6],[18.55,-0.4],[18.6,0.4],[18.65,1.2],[18.7,2.0],[18.75,1.4],[18.8,1.3],[18.85,2.55],[18.9,-0.4],[18.95,-0.4],[19.0,1.3],[19.05,0.6],[19.1,1.0],[19.15,-0.4],[19.2,0.8],[19.25,0.5],[19.3,1.4],[19.35,0.2],[19.4,1.0],[19.45,-0.4],[19.5,0.4],[19.55,0.8],[19.6,-0.4],[19.7,-0.4],[19.75,0.9],[19.8,1.6],[19.85,2.2],[19.9,3.2],[20.0,2.6],[20.1,2.3],[20.15,1.8],[20.2,1.4],[20.25,2.0],[20.3,1.0],[20.35,0.3],[20.4,1.6],[20.45,1.0],[20.5,1.2],[20.55,1.5],[20.6,3.3],[20.7,2.8],[20.8,2.0],[20.85,1.2],[20.9,1.5],[20.95,1.8],[21.0,1.3],[21.05,1.4],[21.1,0.8],[21.15,1.9],[21.2,1.5],[21.25,0.8],[21.3,2.0],[21.35,1.8],[21.4,1.2],[21.45,1.9],[21.5,1.7],[21.55,1.0],[21.6,0.8],[21.65,1.5],[21.7,-0.4],[21.75,2.3],[21.8,2.0],[21.85,1.8],[21.9,1.6],[21.95,2.0],[22.0,1.7],[22.05,1.5],[22.1,2.0],[22.15,1.6],[22.2,1.8],[22.25,1.4],[22.3,1.55],[22.35,1.75],[22.4,1.35],[22.45,1.8],[22.5,1.6],[22.55,1.5],[22.6,1.75],[22.65,1.6],[22.7,2.0],[22.75,1.7],[22.8,2.0],[22.85,2.2],[22.9,1.8],[22.95,2.1],[23.0,2.3],[23.05,2.0],[23.1,2.4],[23.15,2.1],[23.2,1.8],[23.25,1.7],[23.3,2.0],[23.35,1.9],[23.4,2.2],[23.5,2.1],[23.6,2.2],[23.7,2.1],[23.8,2.3],[23.9,2.25],[24.0,2.35]];

const lwpGoldCrosses: Pair[] = [[0.19,-0.04],[3.55,1.04],[3.62,0.91],[3.55,0.74],[8.15,1.91],[15.28,2.79],[16.24,2.43],[16.63,2.2],[16.91,2.04],[17.24,1.7],[17.5,1.1]];
const lwpBrownCrosses: Pair[] = [[1.82,0.18],[3.23,0.73],[8.15,0.5],[10.6,2.7],[16.91,0.8],[19.59,0.5]];

// ---------------- shading flags (hours) ----------------
const steelSpans: Run[] = [[0.81,1.17],[2.19,2.6],[6.42,6.46],[7.21,7.72],[9.71,10.29],[11.0,11.22],[11.8,11.96],[14.01,14.96],[19.85,20.14],[20.58,20.87]];
const cyanSpans: Run[] = [[6.46,6.86],[11.96,12.55],[12.63,13.23],[14.96,15.12],[15.2,15.49],[15.84,15.96],[20.14,20.46],[20.87,21.72]];
const cyanLines: number[] = [0.33,0.44,0.56,0.69,0.74,1.31,1.36,1.41,1.46,1.52,1.57,1.62,1.68,1.73,1.78,1.83,1.88,1.95,2.63,2.72,2.82,3.36,3.42,3.47,3.55,3.62,3.77,3.86,4.25,4.3,4.36,4.74,4.91,5.42,5.63,5.67,5.73,7.13,8.64,9.2,9.53,10.33,10.42,10.47,10.53,10.6,10.69,10.76,10.83,10.91,10.96,11.27,11.34,11.45,11.52,11.68,11.74,13.7,13.77,13.83,15.55,15.61,15.68,15.73,16.52,18.79];
const pinkLines: number[] = [6.11,7.73,9.56];
const yellowSpans: Run[] = [[0.19,0.32],[0.44,0.66],[1.17,1.37],[1.42,1.6],[1.75,2.13],[2.62,3.04],[3.15,3.94],[7.71,7.79],[8.09,8.66],[8.7,9.22],[10.3,10.45],[11.25,11.44],[12.34,12.46],[15.0,15.6],[15.7,15.85],[16.22,16.54],[16.79,17.24],[17.89,18.01],[18.05,18.21],[18.62,18.7],[18.98,19.03],[19.25,19.51]];
const grayLines: number[] = [0.03,0.08,0.12,0.4,0.68,1.3,1.38,2.03,2.1,2.66,2.72,2.8,2.9,3.0,3.1,3.99,4.05,4.1,4.16,4.23,4.3,4.36,4.42,4.5,4.55,4.62,4.68,4.75,4.82,4.88,4.95,5.02,5.08,5.15,5.22,5.28,5.35,5.42,5.48,5.55,5.6,5.68,5.75,5.82,5.9,5.97,6.05,6.2,6.3,9.25,9.3,10.5,10.95,11.6,13.29,13.37,16.06,16.1,16.16,16.22,16.59,16.67,16.74,17.3,17.36,17.42,17.5,17.56,17.62,17.7,17.76,17.82,18.25,18.3,18.36,18.42,18.5,18.56,18.75,18.8,18.86,18.92,19.06,19.12,19.18,19.55,19.6,19.66,19.72,19.78];

// ---------------- DQ flags: runs of flagged samples [start, end] or [single] ----------------
const dq2cFlag0: Run[] = [[0,0.21],[0.35,0.47],[0.58,0.82],[1.29],[1.61],[1.84,2.2],[2.63,3.2],[3.29,3.44],[3.52,3.8],[3.93,4.25],[4.43,4.74],[4.83,5.37],[5.49,6.43],[6.85,7.22],[7.89,8.17],[8.83],[9.23,9.72],[10.43,11.02],[11.35,11.8],[12.41,12.55],[13.28,14.02],[15.13,15.23],[15.6,15.85],[15.93,16.1],[16.5],[16.61,16.8],[16.87],[17.22,17.46],[17.61,18.25],[18.33,18.95],[19.0,19.24],[19.61,19.85],[20.46,20.58],[21.71,24]];
const dq3cFlag0: Run[] = [[0,0.19],[0.35,0.47],[0.58,0.82],[1.25,1.61],[1.72],[1.83,2.2],[2.6,3.2],[3.31],[3.44,3.72],[3.83,4.25],[4.43,4.74],[4.83,5.37],[5.49,5.61],[5.84,7.22],[7.89,8.17],[9.23,9.74],[10.41,11.04],[11.35,12.3],[12.35,13.05],[13.12,14.02],[14.95],[15.13,15.23],[15.6,16.1],[16.5],[16.61,16.91],[17.22,17.46],[17.61,19.24],[19.61,19.83],[20.11,20.39],[20.46,20.6],[20.86,23.02]];
const dq3cFlag1: Run[] = [[0.82],[1.82],[2.82],[3.82],[4.81],[5.82],[6.83],[7.83],[8.83],[9.83],[10.83],[11.83],[12.83],[13.83],[14.83],[15.83],[16.83],[17.83],[18.83],[19.83],[20.83],[21.83],[22.83],[22.98,24]];
const dqFlag3: Run[] = [[4.28],[4.92],[6.91],[8.62],[11.24,11.35],[12.41],[12.8],[13.06],[15.01,15.13],[15.66],[16.09],[16.65],[17.21],[17.86],[18.02],[18.14],[18.36],[18.54],[19.02],[19.66],[20.39],[21.69]];
const dqFlag4: Run[] = [[0.02,0.25],[0.35],[0.55,0.69],[1.12,1.83],[2.09],[2.43,2.81],[3.2,3.52],[3.65,3.82],[4.06],[4.21,5.88],[6.2,6.35],[6.51,7.04],[7.57],[7.83,7.95],[8.18],[8.61,9.02],[9.13,9.27],[9.48],[10.17,10.29],[10.43,10.76],[11.2,11.41],[12.29],[12.83],[12.99,13.38],[13.76],[14.29],[15.04],[15.28],[15.46,15.62],[15.78,15.88],[16.04,16.23],[16.5,16.62],[17.24,17.75],[18.17,18.51],[18.72],[19.24],[19.44,19.74],[20.31,20.54],[20.96],[21.1],[21.64]];
const dqFlag5: Run[] = [[0.17,0.37],[0.43,0.58],[0.67],[1.17,1.81],[2.65],[2.81,2.89],[3.14,3.99],[4.24,4.43],[5.46],[6.86],[7.64,7.87],[8.07,9.21],[10.27,10.71],[11.26,11.43],[11.94],[12.29,12.43],[13.18],[14.95,15.62],[15.84,15.98],[16.08,16.65],[16.75,17.28],[17.35,17.61],[17.96,18.31],[18.54],[18.67],[18.94,18.99],[19.23,19.72],[20.43]];
const dq2cFlag6: Run[] = [[0.33,0.49],[0.57],[0.69,0.94],[1.02],[1.28,1.98],[2.1,2.38],[2.72,2.83],[3.33,3.62],[3.77,3.91],[4.23,4.39],[4.74],[4.9],[5.43],[5.61,5.75],[6.46],[6.63],[7.1,7.72],[8.64],[9.2],[9.69,10.71],[10.8,11.51],[11.67,12.75],[13.18],[13.69,13.83],[14.01,15.62],[15.76,15.9],[16.5],[18.77],[19.83,20.07],[20.23],[20.43],[20.54,20.82],[21.09]];
const dq3cFlag6: Run[] = [[0.86],[2.18,2.42],[6.11],[6.44],[7.2],[7.3,7.7],[9.8],[10.02,10.13],[11.79,11.96],[12.65],[14.01,14.18],[14.69],[19.88],[20.6]];
const dq2cFlag7: Run[] = [[0.84],[2.17,2.38],[2.82],[6.46],[7.2,7.73],[9.74,9.87],[9.95,10.71],[11.06],[11.25,11.46],[11.76,12.43],[12.63],[13.14],[14.0,15.15],[15.19,15.6],[15.86,15.98],[19.87],[20.42],[20.6]];
const dq3cFlag7: Run[] = [[0.88],[2.19,2.44],[6.46],[7.3,7.76],[11.9]];
const dqFlag9: Run[] = [[0.83],[2.18,2.32],[2.72],[6.43],[7.18,7.38],[9.54],[9.74,9.86],[10.04],[11.06],[11.69,11.87],[14.36],[19.86],[20.59]];
const dqFlag10: Run[] = [[6.43],[7.18,7.43],[7.51],[9.54],[9.71,10.09],[10.92],[11.04],[11.67,11.9],[12.08],[12.65],[13.98,14.17],[14.23],[14.38],[14.5],[14.61],[14.72],[19.87],[20.62]];
const dq2cFlag11: Run[] = [[0.83,1.21],[2.22,2.65],[6.45,6.87],[7.23,7.68],[9.72,10.31],[11.02,11.29],[11.81,11.96],[11.98,12.33],[12.57,13.18],[14.03,15.07],[19.87,20.43],[20.6,21.74]];
const dq3cFlag11: Run[] = [[0.83,1.2],[2.22,2.61],[7.23,7.68],[9.74,10.31],[11.03,11.24],[11.81,11.96],[14.03,14.98],[19.87,20.16],[20.6,20.9]];
const dq3cOffset = 0.25;

// ---------------- styling ----------------
const W = 3825;
const AX_L = 376;
const AX_R = 3000;
const FONT = "'DejaVu Sans', 'Liberation Sans', sans-serif";
const AXIS_BLUE = "#0072BD";
const DARK = "#262626";
const C_BLUE = "#0000FF";
const C_LBLUE = "#ADD8E6";
const C_ORANGE = "#FF8C00";
const C_BROWN = "#A52A2A";
const C_RED = "#FF0000";

const toXY = (arr: Pair[]) => arr.map(([x, y]) => ({ x, y }));
const joinSegments = (segs: Pair[][]) => {
  const out: { x: number; y: number | null }[] = [];
  segs.forEach((s, i) => {
    if (i > 0) out.push({ x: s[0][0], y: null });
    s.forEach(([x, y]) => out.push({ x, y }));
  });
  return out;
};
const runsToXY = (groups: [Run[], number][]) => {
  const out: { x: number; y: number | null }[] = [];
  groups.forEach(([runs, level]) => {
    runs.forEach((r) => {
      out.push({ x: r[0], y: level });
      if (r.length > 1) out.push({ x: r[1], y: level });
      out.push({ x: r[r.length - 1], y: null });
    });
  });
  return out;
};

type BandGroup = { color: string; spans: Run[] };
type LegendItem = { kind: "line" | "dot"; color: string; width: number; text: string };
type TitlePart = { t: string; size: number; dy: number };

interface Panel {
  padTop: number;
  xAxisH: number;
  yMin: number;
  yMax: number;
  yTicks: number[];
  yTitle: TitlePart[];
  yTitleX: number;
  bands: BandGroup[];
  legend: { x0: number; x1: number; tx: number; y0: number; dy: number; items: LegendItem[] };
  datasets: any[];
}

function makeConfig(p: Panel): any {
  const bandsPlugin = {
    id: "bands",
    afterDatasetsDraw(chart: any) {
      const { ctx, chartArea: a } = chart;
      const xs = chart.scales.x;
      ctx.save();
      ctx.beginPath();
      ctx.rect(a.left, a.top, a.right - a.left, a.bottom - a.top + 5);
      ctx.clip();
      for (const g of p.bands) {
        ctx.fillStyle = g.color;
        for (const s of g.spans) {
          let x1 = xs.getPixelForValue(s[0]);
          let x2 = xs.getPixelForValue(s.length > 1 ? s[1] : s[0]);
          if (x2 - x1 < 4) {
            const c = (x1 + x2) / 2;
            x1 = c - 2;
            x2 = c + 2;
          }
          ctx.fillRect(x1, a.top, x2 - x1, a.bottom - a.top + 5);
        }
      }
      ctx.restore();
    },
  };
  const framePlugin = {
    id: "frame",
    afterDraw(chart: any) {
      const { ctx, chartArea: a } = chart;
      const xs = chart.scales.x;
      const ys = chart.scales.y;
      const seg = (x1: number, y1: number, x2: number, y2: number) => {
        ctx.beginPath();
        ctx.moveTo(x1, y1);
        ctx.lineTo(x2, y2);
        ctx.stroke();
      };
      ctx.save();
      ctx.lineWidth = 2;
      ctx.strokeStyle = DARK;
      seg(a.left, a.bottom, a.right, a.bottom);
      for (const t of hourTicks) {
        const x = xs.getPixelForValue(t);
        seg(x, a.bottom, x, a.bottom - 26);
      }
      ctx.strokeStyle = AXIS_BLUE;
      seg(a.left, a.top, a.left, a.bottom);
      seg(a.right, a.top, a.right, a.bottom);
      for (const t of p.yTicks) {
        const y = ys.getPixelForValue(t);
        seg(a.left, y, a.left + 26, y);
      }
      // x title
      ctx.fillStyle = DARK;
      ctx.font = `44px ${FONT}`;
      ctx.textAlign = "center";
      ctx.textBaseline = "middle";
      ctx.fillText(xTitle, (a.left + a.right) / 2, a.bottom + 110);
      // y title (rotated)
      ctx.save();
      ctx.translate(p.yTitleX, (a.top + a.bottom) / 2);
      ctx.rotate(-Math.PI / 2);
      ctx.fillStyle = AXIS_BLUE;
      ctx.textAlign = "left";
      let total = 0;
      for (const part of p.yTitle) {
        ctx.font = `${part.size}px ${FONT}`;
        total += ctx.measureText(part.t).width;
      }
      let cx = -total / 2;
      for (const part of p.yTitle) {
        ctx.font = `${part.size}px ${FONT}`;
        ctx.fillText(part.t, cx, part.dy);
        cx += ctx.measureText(part.t).width;
      }
      ctx.restore();
      // legend
      const L = p.legend;
      ctx.font = `40px ${FONT}`;
      ctx.textAlign = "left";
      ctx.textBaseline = "middle";
      L.items.forEach((it, i) => {
        const y = L.y0 + i * L.dy;
        if (it.kind === "line") {
          ctx.strokeStyle = it.color;
          ctx.lineWidth = it.width;
          seg(L.x0, y, L.x1, y);
        } else {
          ctx.fillStyle = it.color;
          ctx.beginPath();
          ctx.arc((L.x0 + L.x1) / 2, y, 4, 0, Math.PI * 2);
          ctx.fill();
        }
        ctx.fillStyle = "#000000";
        ctx.fillText(it.text, L.tx, y);
      });
      ctx.restore();
    },
  };
  return {
    type: "line",
    data: { datasets: p.datasets },
    options: {
      responsive: false,
      animation: false,
      devicePixelRatio: 1,
      events: [],
      layout: { padding: { top: p.padTop, left: 0, right: W - AX_R, bottom: 0 } },
      plugins: { legend: { display: false }, tooltip: { enabled: false } },
      elements: { line: { tension: 0 }, point: { radius: 0 } },
      scales: {
        x: {
          type: "linear",
          min: 0,
          max: 24,
          grid: { display: false, drawTicks: false },
          border: { display: false },
          afterFit: (s: any) => {
            s.height = p.xAxisH;
          },
          afterBuildTicks: (s: any) => {
            s.ticks = hourTicks.map((v) => ({ value: v }));
          },
          ticks: {
            color: DARK,
            font: { size: 44, family: FONT },
            padding: 20,
            maxRotation: 0,
            autoSkip: false,
            callback: (v: any) => String(v),
          },
        },
        y: {
          type: "linear",
          min: p.yMin,
          max: p.yMax,
          grid: { display: false, drawTicks: false },
          border: { display: false },
          afterFit: (s: any) => {
            s.width = AX_L;
          },
          afterBuildTicks: (s: any) => {
            s.ticks = p.yTicks.map((v) => ({ value: v }));
          },
          ticks: {
            color: AXIS_BLUE,
            font: { size: 44, family: FONT },
            padding: 19,
            autoSkip: false,
            callback: (v: any) => String(v),
          },
        },
      },
    },
    plugins: [bandsPlugin, framePlugin],
  };
}

const lineDs = (data: any[], color: string, width: number, order: number) => ({
  data,
  borderColor: color,
  backgroundColor: color,
  borderWidth: width,
  pointRadius: 0,
  fill: false,
  spanGaps: false,
  borderJoinStyle: "round",
  order,
});

const commonBands = (extra: BandGroup[]): BandGroup[] => [
  ...extra,
  { color: "rgba(95,157,217,0.5)", spans: steelSpans },
  { color: "rgba(0,255,255,0.5)", spans: [...cyanSpans, ...cyanLines.map((t) => [t])] },
  { color: "rgba(220,150,220,0.35)", spans: pinkLines.map((t) => [t]) },
];

// canvas slices (page y): top panel 0-1350, LWP 1350-2500, DQ 2500-3750
const SLICES = [
  [0, 1350],
  [1350, 1150],
  [2500, 1250],
];

function pwvPanel(): Panel {
  return {
    padTop: 298,
    xAxisH: 1350 - 1202,
    yMin: 0.472,
    yMax: 6.436,
    yTicks: pwvTicks,
    yTitle: [{ t: "Precip. Water Vapor, mm", size: 44, dy: 0 }],
    yTitleX: 284,
    bands: commonBands([]),
    legend: {
      x0: 2460, x1: 2604, tx: 2621, y0: 372, dy: 52,
      items: [
        { kind: "line", color: C_BLUE, width: 5, text: pwvLegend[0] },
        { kind: "line", color: C_LBLUE, width: 5, text: pwvLegend[1] },
        { kind: "line", color: C_ORANGE, width: 5, text: pwvLegend[2] },
        { kind: "line", color: C_BROWN, width: 5, text: pwvLegend[3] },
      ],
    },
    datasets: [
      lineDs(toXY(pwvMwr3c), C_LBLUE, 7, 7),
      lineDs(toXY(pwvMwr2c), C_BLUE, 3.5, 6),
      lineDs(toXY(pwvPhy2c), C_ORANGE, 4, 5),
      lineDs(toXY(pwvPhy3c), C_BROWN, 5, 4),
      lineDs(joinSegments(pwvRedSegments), C_RED, 11, 3),
      { ...lineDs(toXY(pwvRedDots), C_RED, 0, 2), showLine: false, pointRadius: 6, pointBorderWidth: 0, pointBackgroundColor: C_RED },
    ],
  };
}

function lwpPanel(): Panel {
  return {
    padTop: 1424 - 1350,
    xAxisH: 2500 - 2327,
    yMin: -0.1,
    yMax: 4.122,
    yTicks: lwpTicks,
    yTitle: [
      { t: "log10 Liquid Water Path, log10(g/m", size: 44, dy: 0 },
      { t: "2", size: 31, dy: -17 },
      { t: " )", size: 44, dy: 0 },
    ],
    yTitleX: 239,
    bands: commonBands([
      { color: "rgba(255,255,0,0.5)", spans: yellowSpans },
      { color: "rgba(128,128,128,0.5)", spans: grayLines.map((t) => [t]) },
    ]),
    legend: {
      x0: 490, x1: 636, tx: 651, y0: 1499 - 1350, dy: 50.5,
      items: [
        { kind: "line", color: C_BLUE, width: 5, text: lwpLegend[0] },
        { kind: "line", color: C_LBLUE, width: 5, text: lwpLegend[1] },
        { kind: "line", color: C_ORANGE, width: 5, text: lwpLegend[2] },
        { kind: "line", color: C_BROWN, width: 5, text: lwpLegend[3] },
      ],
    },
    datasets: [
      lineDs(toXY(lwpMwr3c), C_LBLUE, 7, 7),
      lineDs(toXY(lwpMwr2c), C_BLUE, 3.5, 6),
      lineDs(toXY(lwpPhy2c), C_ORANGE, 4, 5),
      lineDs(toXY(lwpPhy3c), C_BROWN, 5, 4),
      { ...lineDs(toXY(lwpGoldCrosses), "#F2B400", 3.5, 2), showLine: false, pointStyle: "crossRot", pointRadius: 12, pointBorderWidth: 4, pointBorderColor: "#F2B400" },
      { ...lineDs(toXY(lwpBrownCrosses), "#C8782A", 3.5, 1), showLine: false, pointStyle: "crossRot", pointRadius: 12, pointBorderWidth: 4, pointBorderColor: "#C8782A" },
    ],
  };
}

function dqPanel(): Panel {
  const o = dq3cOffset;
  const dq2c = runsToXY([
    [dq2cFlag0, 0], [dqFlag3, 3], [dqFlag4, 4], [dqFlag5, 5], [dq2cFlag6, 6],
    [dq2cFlag7, 7], [dqFlag9, 9], [dqFlag10, 10], [dq2cFlag11, 11],
  ]);
  const dq3c = runsToXY([
    [dq3cFlag0, 0 + o], [dq3cFlag1, 1 + o], [dqFlag3, 3 + o], [dqFlag4, 4 + o], [dqFlag5, 5 + o],
    [dq3cFlag6, 6 + o], [dq3cFlag7, 7 + o], [dqFlag9, 9 + o], [dqFlag10, 10 + o], [dq3cFlag11, 11 + o],
  ]);
  const dotDs = (data: any[], color: string, order: number) => ({
    ...lineDs(data, color, 10, order),
    borderCapStyle: "round",
    pointRadius: 5,
    pointBorderWidth: 0,
    pointBackgroundColor: color,
  });
  return {
    padTop: 2548 - 2500,
    xAxisH: 3750 - 3451,
    yMin: -0.5,
    yMax: 11.5,
    yTicks: dqTicks,
    yTitle: [{ t: "DQ Flag", size: 44, dy: 0 }],
    yTitleX: 254,
    bands: [],
    legend: {
      x0: 490, x1: 526, tx: 597, y0: 3200 - 2500, dy: 52,
      items: [
        { kind: "dot", color: C_ORANGE, width: 0, text: dqLegend[0] },
        { kind: "dot", color: C_BROWN, width: 0, text: dqLegend[1] },
      ],
    },
    datasets: [dotDs(dq2c, C_ORANGE, 2), dotDs(dq3c, C_BROWN, 1)],
  };
}

export default function App() {
  const r1 = useRef<HTMLCanvasElement>(null);
  const r2 = useRef<HTMLCanvasElement>(null);
  const r3 = useRef<HTMLCanvasElement>(null);
  useEffect(() => {
    Chart.defaults.font.family = FONT;
    const charts = [
      new Chart(r1.current as HTMLCanvasElement, makeConfig(pwvPanel())),
      new Chart(r2.current as HTMLCanvasElement, makeConfig(lwpPanel())),
      new Chart(r3.current as HTMLCanvasElement, makeConfig(dqPanel())),
    ];
    return () => charts.forEach((c) => c.destroy());
  }, []);
  const cs = (top: number, h: number): React.CSSProperties => ({
    position: "absolute", left: 0, top, width: W, height: h, display: "block",
  });
  return (
    <div style={{ position: "absolute", left: 0, top: 0, width: W, height: 3750, background: "#ffffff", overflow: "hidden" }}>
      <canvas ref={r1} width={W} height={SLICES[0][1]} style={cs(SLICES[0][0], SLICES[0][1])} />
      <canvas ref={r2} width={W} height={SLICES[1][1]} style={cs(SLICES[1][0], SLICES[1][1])} />
      <canvas ref={r3} width={W} height={SLICES[2][1]} style={cs(SLICES[2][0], SLICES[2][1])} />
    </div>
  );
}
